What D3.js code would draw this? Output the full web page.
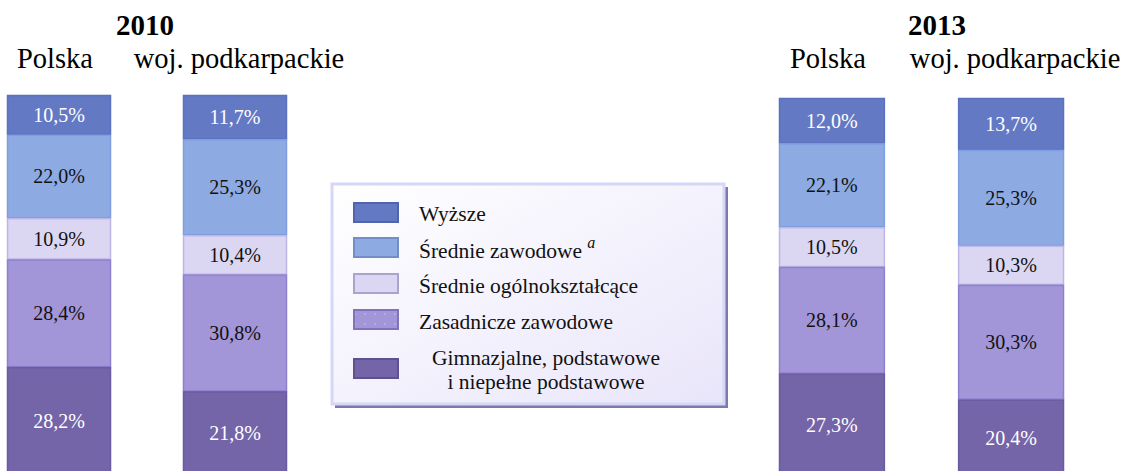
<!DOCTYPE html>
<html><head><meta charset="utf-8">
<script src="https://cdn.jsdelivr.net/npm/d3@7"></script>
<style>html,body{margin:0;padding:0;background:#fff;overflow:hidden}svg{display:block}</style>
</head><body>
<svg id="c" width="1126" height="471"></svg>
<script>
const categories = ["Wyższe", "Średnie zawodowe", "Średnie ogólnokształcące", "Zasadnicze zawodowe", "Gimnazjalne, podstawowe i niepełne podstawowe"];
const years = ["2010", "2013"];
const regions = ["Polska", "woj. podkarpackie"];
const values2010Polska = [10.5, 22.0, 10.9, 28.4, 28.2];
const values2010Podkarpackie = [11.7, 25.3, 10.4, 30.8, 21.8];
const values2013Polska = [12.0, 22.1, 10.5, 28.1, 27.3];
const values2013Podkarpackie = [13.7, 25.3, 10.3, 30.3, 20.4];

const dataByYear = {
  "2010": [values2010Polska, values2010Podkarpackie],
  "2013": [values2013Polska, values2013Podkarpackie]
};

const fills = ["#6479c4", "#8eaae2", "#dbd7f2", "#a295d8", "#7464a8"];
const strokes = ["#5a70c0", "#7f9ee0", "#bdb5e6", "#8e80d0", "#6a5aa0"];
const labelColors = ["#ffffff", "#111111", "#111111", "#111111", "#ffffff"];
const fmt = v => d3.format(".1f")(v).replace(".", ",") + "%";
const FONT = "Liberation Serif";

const svg = d3.select("#c");

const defs = svg.append("defs");
const pat = defs.append("pattern").attr("id", "dots").attr("patternUnits", "userSpaceOnUse")
  .attr("width", 10).attr("height", 10);
pat.append("rect").attr("width", 10).attr("height", 10).attr("fill", fills[3]);
pat.append("circle").attr("cx", 5).attr("cy", 4).attr("r", 0.7).attr("fill", "#d8d0f4");
const grad = defs.append("linearGradient").attr("id", "lg").attr("x1", "0").attr("y1", "0").attr("x2", "1").attr("y2", "1");
grad.append("stop").attr("offset", "0").attr("stop-color", "#ffffff");
grad.append("stop").attr("offset", "1").attr("stop-color", "#e9e5fa");

const panels = [
  { year: "2010", range: [7, 287], top: 95, titleX: 145 },
  { year: "2013", range: [779, 1064], top: 98, titleX: 937 }
];

panels.forEach(p => {
  const x = d3.scaleBand().domain(regions).range(p.range).paddingInner(0.409).paddingOuter(0);
  const y = d3.scaleLinear().domain([0, 100]).range([p.top, p.top + 379]);
  const g = svg.append("g");

  g.append("text").attr("x", p.titleX).attr("y", 35).attr("text-anchor", "middle")
    .style("font-family", FONT).style("font-weight", "bold").style("font-size", "29px").attr("fill", "#000")
    .text(p.year);

  regions.forEach((r, ri) => {
    const vals = dataByYear[p.year][ri];
    let cum = 0;
    const segs = vals.map((v, i) => { const s = { i, v, y0: cum, y1: cum + v }; cum += v; return s; });
    const cx = x(r) + x.bandwidth() / 2;

    g.append("text").attr("x", cx + (ri === 0 ? -4 : 4)).attr("y", 68).attr("text-anchor", "middle")
      .style("font-family", FONT).style("font-size", "28.5px").attr("fill", "#000").text(r);

    const bg = g.append("g");
    bg.selectAll("rect").data(segs).join("rect")
      .attr("x", x(r) + 0.5).attr("width", x.bandwidth() - 1)
      .attr("y", d => y(d.y0) + 0.5).attr("height", d => y(d.y1) - y(d.y0) - 1)
      .attr("fill", d => fills[d.i]).attr("stroke", d => strokes[d.i]).attr("stroke-width", 1.5);
    bg.selectAll("text").data(segs).join("text")
      .attr("x", cx).attr("y", d => (y(d.y0) + y(d.y1)) / 2).attr("dy", "0.35em")
      .attr("text-anchor", "middle").style("font-family", FONT).style("font-size", "20px")
      .attr("fill", d => labelColors[d.i]).text(d => fmt(d.v));
  });
});

// Legend
const lg = svg.append("g");
lg.append("rect").attr("x", 335).attr("y", 187).attr("width", 393).attr("height", 221).attr("fill", "#7d79ab");
lg.append("rect").attr("x", 332).attr("y", 184).attr("width", 392).attr("height", 220)
  .attr("fill", "url(#lg)").attr("stroke", "#d6d6f7").attr("stroke-width", 3);
const rows = [
  { i: 0, sy: 203, lines: ["Wyższe"], ty: [221] },
  { i: 1, sy: 238, lines: ["Średnie zawodowe"], ty: [258], sup: true },
  { i: 2, sy: 274, lines: ["Średnie ogólnokształcące"], ty: [293] },
  { i: 3, sy: 310, lines: ["Zasadnicze zawodowe"], ty: [329] },
  { i: 4, sy: 359, lines: ["Gimnazjalne, podstawowe", "i niepełne podstawowe"], ty: [365, 389], center: 546 }
];
rows.forEach(rw => {
  lg.append("rect").attr("x", 354).attr("y", rw.sy).attr("width", 44).attr("height", 19)
    .attr("fill", rw.i === 3 ? "url(#dots)" : fills[rw.i])
    .attr("stroke", d3.color(strokes[rw.i]).darker(0.3)).attr("stroke-width", 2);
  rw.lines.forEach((ln, k) => {
    const t = lg.append("text").attr("y", rw.ty[k]).style("font-family", FONT).style("font-size", "21.5px").attr("fill", "#111");
    if (rw.center) t.attr("x", rw.center).attr("text-anchor", "middle");
    else t.attr("x", 419);
    t.text(ln);
    if (rw.sup) {
      t.append("tspan").text(" ");
      t.append("tspan").style("font-style", "italic").style("font-size", "16px").attr("dy", -10).text("a");
    }
  });
});
</script>
</body></html>
